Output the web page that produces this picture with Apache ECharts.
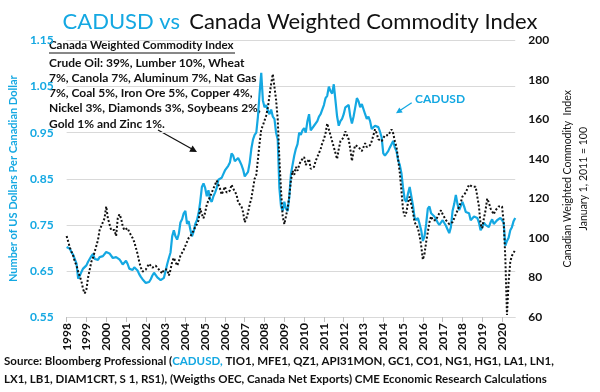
<!DOCTYPE html>
<html><head><meta charset="utf-8">
<script src="https://cdn.jsdelivr.net/npm/echarts@6/dist/echarts.min.js"></script>
<style>html,body{margin:0;padding:0;background:#fff}#c{width:600px;height:392px}</style>
</head><body><div id="c"></div>
<script>
// ---- data ----
const firstYear = 1998, lastYear = 2020, lastMonthOfLastYear = 9;
const months = [];
for (let y = firstYear; y <= lastYear; y++) {
  for (let m = 1; m <= 12; m++) {
    if (y === lastYear && m > lastMonthOfLastYear) break;
    months.push(y + '-' + String(m).padStart(2, '0'));
  }
}
// CADUSD, monthly (left axis)
const cadusd = [
  0.702,0.700,0.698,0.690,0.685,0.675,0.666,0.633,0.640,0.648,0.655,0.658, // 1998
  0.662,0.670,0.668,0.682,0.687,0.676,0.678,0.674,0.680,0.684,0.682,0.686, // 1999
  0.691,0.694,0.688,0.684,0.678,0.682,0.680,0.677,0.675,0.670,0.664,0.668, // 2000
  0.672,0.665,0.655,0.651,0.652,0.658,0.656,0.651,0.643,0.637,0.632,0.628, // 2001
  0.624,0.622,0.626,0.632,0.640,0.646,0.644,0.636,0.633,0.630,0.628,0.635, // 2002
  0.650,0.665,0.678,0.690,0.725,0.738,0.725,0.718,0.730,0.755,0.762,0.775, // 2003
  0.780,0.752,0.758,0.740,0.725,0.735,0.752,0.760,0.775,0.800,0.832,0.840, // 2004
  0.830,0.812,0.825,0.805,0.800,0.812,0.820,0.830,0.848,0.852,0.852,0.860, // 2005
  0.868,0.872,0.878,0.885,0.905,0.900,0.888,0.892,0.895,0.888,0.880,0.870, // 2006
  0.855,0.860,0.865,0.885,0.915,0.935,0.945,0.950,0.985,1.035,1.080,1.020, // 2007
  1.005,1.010,0.998,0.990,1.000,0.985,0.980,0.950,0.935,0.830,0.790,0.780, // 2008
  0.800,0.785,0.780,0.810,0.860,0.880,0.900,0.915,0.925,0.950,0.945,0.955, // 2009
  0.960,0.950,0.975,0.990,0.955,0.960,0.965,0.965,0.975,0.985,0.990,1.000, // 2010
  1.010,1.025,1.030,1.050,1.040,1.035,1.055,1.020,0.985,0.965,0.975,0.980, // 2011
  0.990,1.005,1.008,1.010,0.985,0.970,0.985,1.005,1.025,1.018,1.005,1.012, // 2012
  1.010,0.990,0.980,0.985,0.975,0.958,0.962,0.965,0.968,0.962,0.952,0.940, // 2013
  0.905,0.900,0.898,0.910,0.918,0.925,0.932,0.918,0.910,0.890,0.880,0.862, // 2014
  0.830,0.805,0.800,0.818,0.832,0.812,0.792,0.765,0.760,0.765,0.752,0.738, // 2015
  0.715,0.725,0.752,0.785,0.790,0.775,0.772,0.768,0.762,0.755,0.750,0.752, // 2016
  0.760,0.758,0.748,0.740,0.732,0.745,0.780,0.795,0.815,0.795,0.782,0.785, // 2017
  0.800,0.790,0.778,0.780,0.775,0.760,0.762,0.768,0.770,0.765,0.755,0.738, // 2018
  0.745,0.755,0.750,0.748,0.745,0.755,0.762,0.752,0.756,0.760,0.757,0.765, // 2019
  0.765,0.755,0.705,0.715,0.722,0.738,0.745,0.758,0.765                    // 2020
];
// Canada Weighted Commodity Index (Jan 1, 2011 = 100), monthly (right axis)
const commodityIndex = [
  101,98,95,93,91,88,86,83,82,78,74,72,          // 1998
  74,80,84,88,90,93,96,99,104,106,108,110,       // 1999
  116,110,107,104,103,104,101,110,112,110,106,104, // 2000
  103,105,103,102,100,98,95,92,88,85,83,82,      // 2001
  84,85,87,87,85,84,86,85,84,83,82,84,           // 2002
  85,84,81,84,88,90,88,86,88,91,92,94,           // 2003
  96,98,100,101,102,104,105,107,109,115,112,110, // 2004
  113,117,119,121,122,125,127,129,127,125,122,124, // 2005
  126,123,122,124,127,125,124,122,118,117,116,113, // 2006
  108,110,113,117,120,125,130,132,140,148,155,157, // 2007
  156,162,166,172,178,183,184,170,160,140,124,111, // 2008
  107,108,115,121,129,134,132,136,134,137,139,140, // 2009
  141,137,138,140,135,134,136,139,140,143,145,148, // 2010
  150,153,158,155,152,149,150,143,140,145,149,148, // 2011
  151,154,155,150,145,139,144,147,148,146,145,144, // 2012
  146,148,146,145,147,149,152,155,153,150,149,149, // 2013
  150,152,151,152,153,155,153,149,146,140,133,124, // 2014
  114,111,113,118,121,120,113,108,107,105,101,96,  // 2015
  89,92,98,103,108,111,109,108,109,111,112,114,    // 2016
  112,112,109,109,107,106,108,110,112,113,116,118, // 2017
  121,122,123,125,127,127,126,126,126,125,116,107, // 2018
  105,110,114,120,118,115,116,112,114,115,116,117, // 2019
  116,108,90,61,78,88,91,92,94                     // 2020
];
const leftTitle = 'Number of US Dollars Per Canadian Dollar';
const rightTitle = 'Canadian Weighted Commodity  Index\nJanuary 1, 2011 = 100';
const boxTitle = 'Canada Weighted Commodity Index';
const boxLines = [
  'Crude Oil: 39%, Lumber 10%, Wheat',
  '7%, Canola 7%, Aluminum 7%, Nat Gas',
  '7%, Coal 5%, Iron Ore 5%, Copper 4%,',
  'Nickel 3%, Diamonds 3%, Soybeans 2%,',
  'Gold 1% and Zinc 1%.'
];
const sourceLine1a = 'Source: Bloomberg Professional (';
const sourceLine1b = 'CADUSD,';
const sourceLine1c = ' TIO1, MFE1, QZ1, API31MON, GC1, CO1, NG1, HG1, LA1, LN1,';
const sourceLine2 = 'LX1, LB1, DIAM1CRT, S 1, RS1), (Weigths OEC, Canada Net Exports) CME Economic Research Calculations';

// ---- chart ----
const CYAN = '#14A8E2';
const FONT = 'Lato, "Open Sans", sans-serif';
const isJan = (i, v) => String(v).slice(5) === '01';
const chart = echarts.init(document.getElementById('c'), null, {renderer: 'canvas'});
chart.setOption({
  animation: false,
  backgroundColor: '#fff',
  textStyle: {fontFamily: FONT},
  title: {
    text: '{a|CADUSD vs}  {b|Canada Weighted Commodity Index}',
    left: 'center', top: 6,
    textStyle: {fontWeight: 'normal', rich: {
      a: {color: CYAN, fontSize: 22, fontWeight: 'normal', fontFamily: FONT},
      b: {color: '#111', fontSize: 22, fontWeight: 'normal', fontFamily: FONT}
    }}
  },
  grid: {left: 58, right: 73, top: 40.5, bottom: 75, containLabel: false},
  xAxis: {
    type: 'category', data: months, boundaryGap: false,
    axisLine: {lineStyle: {color: '#d9d9d9', width: 1}},
    axisTick: {interval: isJan, length: 5, lineStyle: {color: '#bfbfbf'}},
    axisLabel: {interval: isJan, rotate: 90, margin: 6, color: '#111', fontWeight: 'bold',
      fontSize: 12, fontFamily: FONT, formatter: v => v.slice(0, 4)},
    splitLine: {show: false}
  },
  yAxis: [{
    type: 'value', position: 'left', min: 0.55, max: 1.15, interval: 0.1,
    axisLine: {show: false}, axisTick: {show: false},
    splitLine: {lineStyle: {color: '#d9d9d9', width: 1}},
    axisLabel: {color: CYAN, fontWeight: 'bold', fontSize: 12, margin: 13, fontFamily: FONT,
      formatter: v => v.toFixed(2)},
    name: leftTitle, nameLocation: 'middle', nameGap: 41,
    nameTextStyle: {color: CYAN, fontWeight: 'bold', fontSize: 11, fontFamily: FONT}
  }, {
    type: 'value', position: 'right', min: 60, max: 200, interval: 20,
    axisLine: {show: false}, axisTick: {show: false}, splitLine: {show: false},
    axisLabel: {color: '#111', fontWeight: 'bold', fontSize: 12, margin: 13, fontFamily: FONT},
    name: rightTitle, nameLocation: 'middle', nameGap: 40,
    nameTextStyle: {color: '#111', fontSize: 10.5, lineHeight: 16, fontFamily: FONT}
  }],
  series: [{
    name: 'CADUSD', type: 'line', yAxisIndex: 0, data: cadusd, showSymbol: false,
    lineStyle: {color: CYAN, width: 2.2}, z: 2
  }, {
    name: 'Canada Weighted Commodity Index', type: 'line', yAxisIndex: 1, data: commodityIndex,
    showSymbol: false, lineStyle: {color: '#111', width: 2, type: [2, 2]}, z: 3
  }],
  graphic: [
    {type: 'text', left: 49, top: 39, style: {text: boxTitle, fill: '#111', font: 'bold 11.5px ' + FONT}},
    {type: 'line', shape: {x1: 49, y1: 53, x2: 235, y2: 53}, style: {stroke: '#111', lineWidth: 1}},
    {type: 'text', left: 49, top: 55, style: {text: boxLines.join('\n'), fill: '#111',
      font: 'bold 12px ' + FONT, lineHeight: 15.3}},
    {type: 'line', shape: {x1: 158, y1: 130, x2: 192, y2: 149}, style: {stroke: '#111', lineWidth: 1.2}},
    {type: 'polygon', shape: {points: [[197, 152], [189.2, 151.7], [192.6, 145.6]]}, style: {fill: '#111'}},
    {type: 'text', left: 415, top: 93, style: {text: 'CADUSD', fill: CYAN, font: 'bold 12px ' + FONT}},
    {type: 'line', shape: {x1: 411.7, y1: 102.7, x2: 400, y2: 110.5}, style: {stroke: CYAN, lineWidth: 1.3}},
    {type: 'polygon', shape: {points: [[396, 113.3], [399.3, 107.4], [402.7, 112.4]]}, style: {fill: CYAN}},
    {type: 'text', left: 4, top: 355, style: {
      text: '{k|' + sourceLine1a + '}{c|' + sourceLine1b + '}{k|' + sourceLine1c + '}',
      rich: {k: {fill: '#111', font: 'bold 11.5px ' + FONT}, c: {fill: CYAN, font: 'bold 11.5px ' + FONT}}
    }},
    {type: 'text', left: 4, top: 373, style: {text: sourceLine2, fill: '#111', font: 'bold 11.5px ' + FONT}}
  ]
});
</script></body></html>
